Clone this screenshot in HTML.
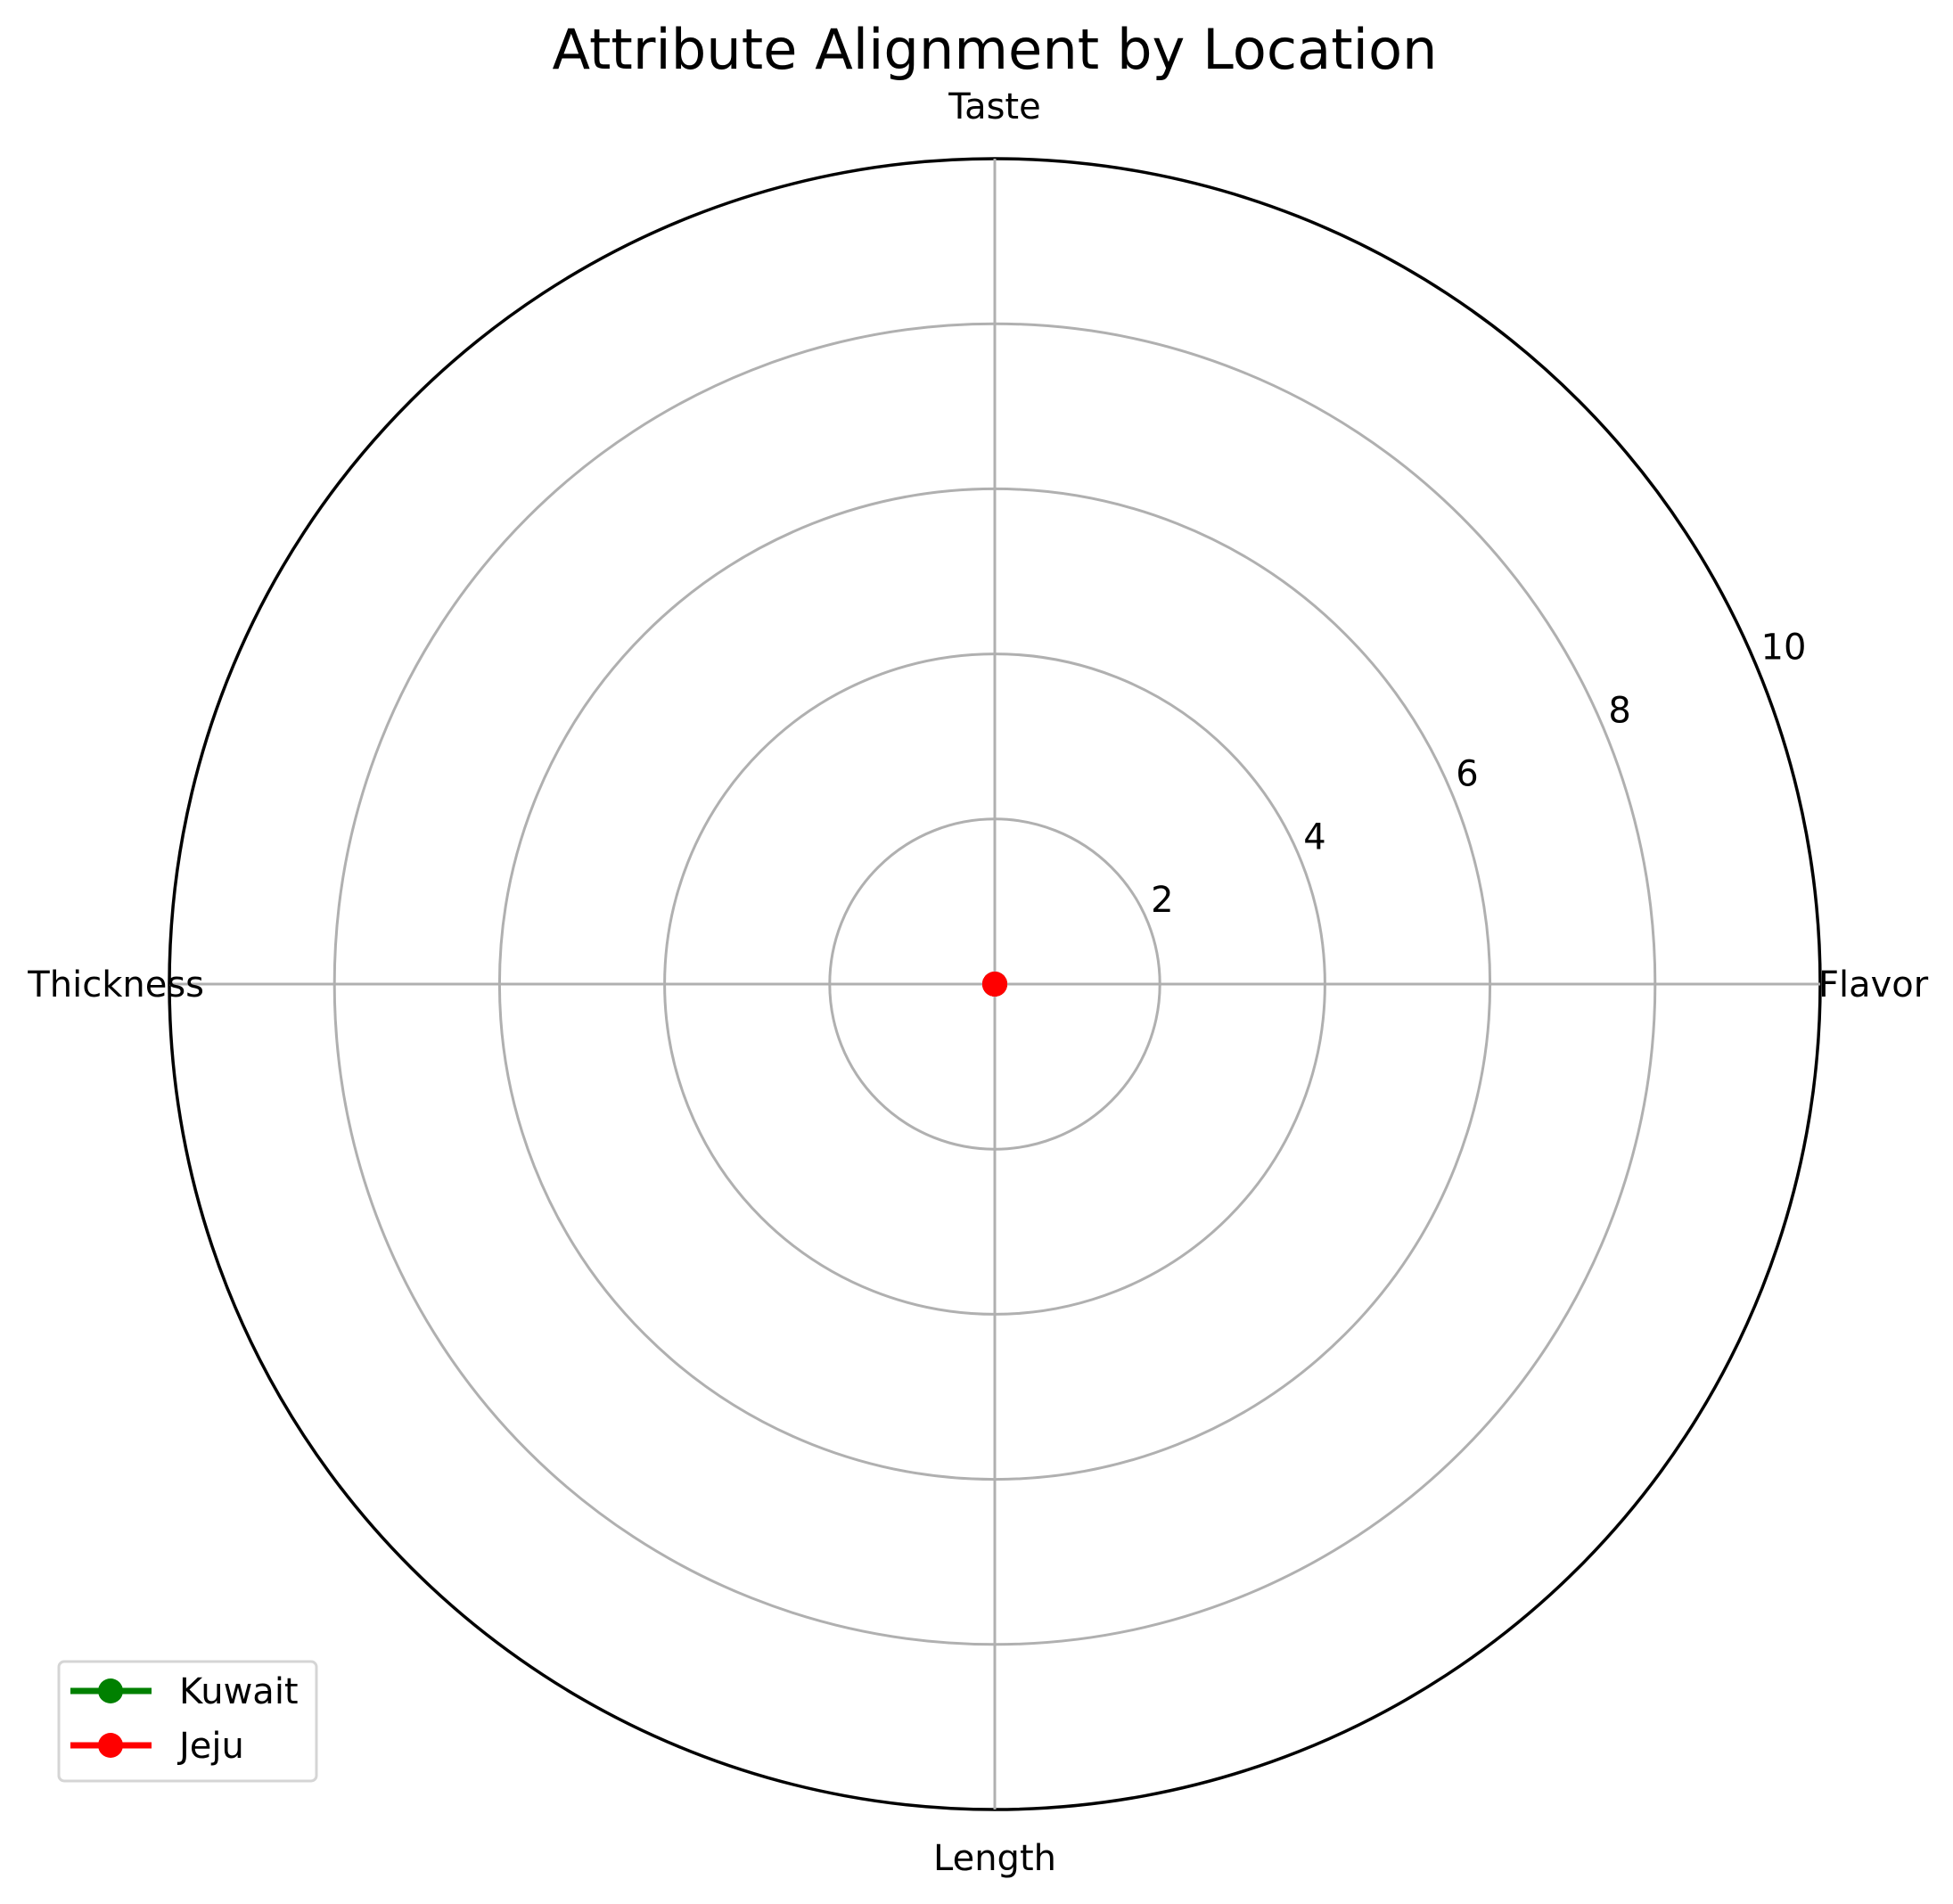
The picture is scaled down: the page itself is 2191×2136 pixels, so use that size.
<!DOCTYPE html>
<html><head><meta charset="utf-8"><style>
html,body{margin:0;padding:0;background:#fff;}
svg{display:block;font-family:"DejaVu Sans","Liberation Sans",sans-serif;}
</style></head><body>
<svg id="chart" width="2191" height="2136" viewBox="0 0 2191 2136" xmlns="http://www.w3.org/2000/svg">
<rect width="2191" height="2136" fill="#fff"/>
<text x="1116" y="77" font-size="62" text-anchor="middle" textLength="993" lengthAdjust="spacingAndGlyphs">Attribute Alignment by Location</text>
<g id="grid"></g>
<g id="series"></g>
<g id="legend">
<rect x="66" y="1864" width="289" height="134" rx="6" fill="#fff" stroke="#d5d5d5" stroke-width="3"/>
<g>
<line x1="79" y1="1897" x2="170" y2="1897" stroke="green" stroke-width="7"/>
<circle cx="124" cy="1897" r="14" fill="green"/>
<text x="201" y="1911" font-size="40">Kuwait</text>
</g>
<g>
<line x1="79" y1="1958" x2="170" y2="1958" stroke="red" stroke-width="7"/>
<circle cx="124" cy="1958" r="14" fill="red"/>
<text x="201" y="1972" font-size="40">Jeju</text>
</g>
</g>
</svg>
<script>
const categories = ["Flavor", "Taste", "Thickness", "Length"];
const kuwaitValues = [0, 0, 0, 0];
const jejuValues = [0, 0, 0, 0];
const rTicks = [2, 4, 6, 8, 10];
const rTickLabels = ["2", "4", "6", "8", "10"];
const rMax = 10;

const NS = "http://www.w3.org/2000/svg";
const cx = 1116, cy = 1104, R = 926;
function rScale(v){ return v / rMax * R; }
function angleOf(i){ return i * 2 * Math.PI / categories.length; }
function pt(i, v){ const a = angleOf(i), r = rScale(v); return [cx + r*Math.cos(a), cy - r*Math.sin(a)]; }
function mk(tag, attrs, parent){ const e = document.createElementNS(NS, tag); for (const k in attrs) e.setAttribute(k, attrs[k]); parent.appendChild(e); return e; }

const grid = document.getElementById('grid');
rTicks.forEach((t, i) => {
  const isOuter = t === rMax;
  const c = mk('circle', {cx: cx, cy: cy, r: rScale(t), fill: 'none', stroke: isOuter ? '#000' : '#b0b0b0', 'stroke-width': isOuter ? 3.5 : 3}, grid);
  
  
});
categories.forEach((c, i) => {
  const [x, y] = pt(i, rMax);
  const l = mk('line', {x1: cx, y1: cy, x2: x, y2: y, stroke: '#b0b0b0', 'stroke-width': 3}, grid);
  
  
});
const labelPos = [
  {x: 2040, y: 1118, a: 'start'},
  {x: 1116, y: 133, a: 'middle'},
  {x: 229, y: 1118, a: 'end'},
  {x: 1116, y: 2098, a: 'middle'}
];
categories.forEach((c, i) => {
  const p = labelPos[i];
  const t = mk('text', {x: p.x, y: p.y, 'font-size': 40, 'text-anchor': p.a}, grid);
  t.textContent = c;
  
  
});
rTicks.forEach((v, i) => {
  const a = 22.5 * Math.PI / 180, r = rScale(v);
  const x = cx + r*Math.cos(a), y = cy - r*Math.sin(a);
  const t = mk('text', {x: x + 4, y: y - 10, 'font-size': 40}, grid);
  t.textContent = rTickLabels[i];
  
  
});

const series = document.getElementById('series');
function drawSeries(vals, color, name){
  const pts = vals.map((v, i) => pt(i, v));
  pts.push(pts[0]);
  const p = mk('polyline', {points: pts.map(q => q.join(',')).join(' '), fill: 'none', stroke: color, 'stroke-width': 5}, series);
  
  
  vals.forEach((v, i) => {
    const [x, y] = pt(i, v);
    const c = mk('circle', {cx: x, cy: y, r: 14, fill: color}, series);
    
    
  });
}
drawSeries(kuwaitValues, 'green', 'kuwait');
drawSeries(jejuValues, 'red', 'jeju');
</script>
</body></html>
